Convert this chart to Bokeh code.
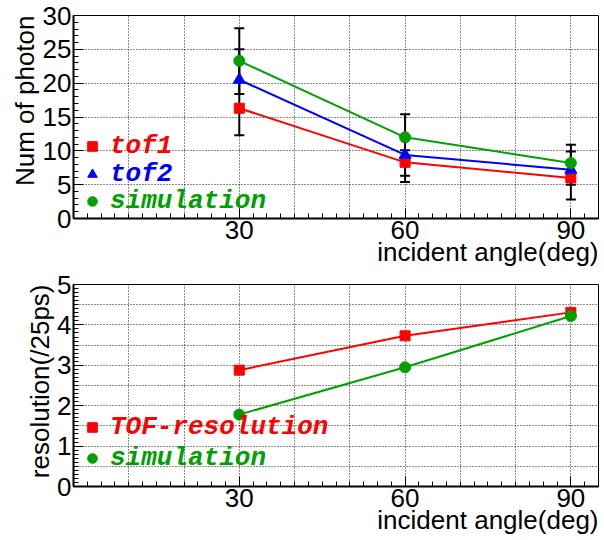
from bokeh.plotting import figure
from bokeh.layouts import column
from bokeh.models import (FixedTicker, Legend, LegendItem, Whisker, TeeHead,
                          ColumnDataSource, Title)
from bokeh.embed import file_html
from bokeh.resources import INLINE

# ---------------- data ----------------
angles = [30, 60, 90]
tof1 = [16.3, 8.3, 6.0]
tof2 = [20.5, 9.4, 7.2]
sim_photon = [23.3, 12.0, 8.2]
err_a_lo = [12.3, 5.4, 2.8]
err_a_hi = [28.1, 15.4, 10.9]
err_b_lo = [18.4, 6.3, 5.0]
err_b_hi = [25.0, 10.1, 9.9]

tof_res = [2.88, 3.73, 4.31]
sim_res = [1.78, 2.95, 4.22]

x_tick_labels = [30, 60, 90]

FONT = "Liberation Sans"
MONO = "Liberation Mono"
RED, BLUE, GREEN = "#ff0000", "#0000ff", "#00a000"


def style(p, yticks, yminor, ygrid, xlabel, ylabel):
    p.outline_line_color = "black"
    p.outline_line_width = 1
    p.xaxis.ticker = FixedTicker(ticks=x_tick_labels,
                                 minor_ticks=[i * 2.5 for i in range(0, 39)])
    p.yaxis.ticker = FixedTicker(ticks=yticks, minor_ticks=yminor)
    p.xgrid.ticker = FixedTicker(ticks=list(range(10, 100, 10)))
    p.ygrid.ticker = FixedTicker(ticks=ygrid)
    for g in (p.xgrid, p.ygrid):
        g.grid_line_color = "black"
        g.grid_line_dash = "1 2"
        g.grid_line_width = 1
        g.grid_line_alpha = 0.9
    for ax in (p.xaxis, p.yaxis):
        ax.axis_line_width = 2
        ax.axis_line_color = "black"
        ax.major_tick_in = 10
        ax.major_tick_out = 0
        ax.minor_tick_in = 5
        ax.minor_tick_out = 0
        ax.major_tick_line_color = "black"
        ax.minor_tick_line_color = "black"
        ax.major_label_text_font = FONT
        ax.major_label_text_font_size = "26px"
        ax.major_label_text_color = "black"
        ax.major_label_standoff = 2
    p.add_layout(Title(text=ylabel, align="right", text_font=FONT,
                       text_font_size="26px", text_font_style="normal",
                       text_color="black", standoff=0), "left")
    p.add_layout(Title(text=xlabel, align="right", text_font=FONT,
                       text_font_size="26px", text_font_style="normal",
                       text_color="black", standoff=-13), "below")


def add_legend(p, label, renderer, color, x, y):
    lg = Legend(items=[LegendItem(label=label, renderers=[renderer])],
                location=(x, y), border_line_color=None,
                background_fill_alpha=0, padding=0, margin=0,
                glyph_width=24, glyph_height=24, label_standoff=6,
                spacing=0, label_text_font=MONO,
                label_text_font_style="bold italic",
                label_text_font_size="26px", label_text_color=color)
    p.add_layout(lg, "center")


# ---------------- top panel ----------------
p1 = figure(width=602, height=269, x_range=(0, 95), y_range=(0, 30),
            output_backend="svg", toolbar_location=None,
            min_border_left=73, min_border_right=4, min_border_top=15,
            min_border_bottom=51)
style(p1, list(range(0, 31, 5)), list(range(0, 31)),
      list(range(5, 30, 5)), "incident angle(deg)", "Num of photon")

src = ColumnDataSource(dict(x=angles, alo=err_a_lo, ahi=err_a_hi,
                            blo=err_b_lo, bhi=err_b_hi))

p1.line(angles, tof1, line_color=RED, line_width=2)
p1.line(angles, tof2, line_color=BLUE, line_width=2)
p1.line(angles, sim_photon, line_color=GREEN, line_width=2)
r_tof1 = p1.scatter(angles, tof1, marker="square", size=10, color=RED)
r_tof2 = p1.scatter(angles, tof2, marker="triangle", size=12, color=BLUE)
for lo, hi in (("alo", "ahi"), ("blo", "bhi")):
    p1.add_layout(Whisker(source=src, base="x", lower=lo, upper=hi,
                          line_color="black", line_width=2,
                          upper_head=TeeHead(size=10, line_width=2, line_color="black"),
                          lower_head=TeeHead(size=10, line_width=2, line_color="black")))
r_sim1 = p1.scatter(angles, sim_photon, marker="circle", size=11, color=GREEN)

add_legend(p1, "tof1", r_tof1, RED, 7, 57)
add_legend(p1, "tof2", r_tof2, BLUE, 7, 29)
add_legend(p1, "simulation", r_sim1, GREEN, 7, 2)

# ---------------- bottom panel ----------------
p2 = figure(width=602, height=268, x_range=(0, 95), y_range=(0, 5),
            output_backend="svg", toolbar_location=None,
            min_border_left=73, min_border_right=4, min_border_top=15,
            min_border_bottom=51)
style(p2, list(range(0, 6)), [i / 10 for i in range(0, 51)],
      [i / 2 for i in range(1, 10)], "incident angle(deg)", "resolution(/25ps)")

p2.line(angles, tof_res, line_color=RED, line_width=2)
p2.line(angles, sim_res, line_color=GREEN, line_width=2)
r_res = p2.scatter(angles, tof_res, marker="square", size=10, color=RED)
r_sim2 = p2.scatter(angles, sim_res, marker="circle", size=11, color=GREEN)

add_legend(p2, "TOF-resolution", r_res, RED, 7, 44)
add_legend(p2, "simulation", r_sim2, GREEN, 7, 13)

layout = column(p1, p2, spacing=0)
open("out.html", "w").write(file_html(layout, INLINE))
